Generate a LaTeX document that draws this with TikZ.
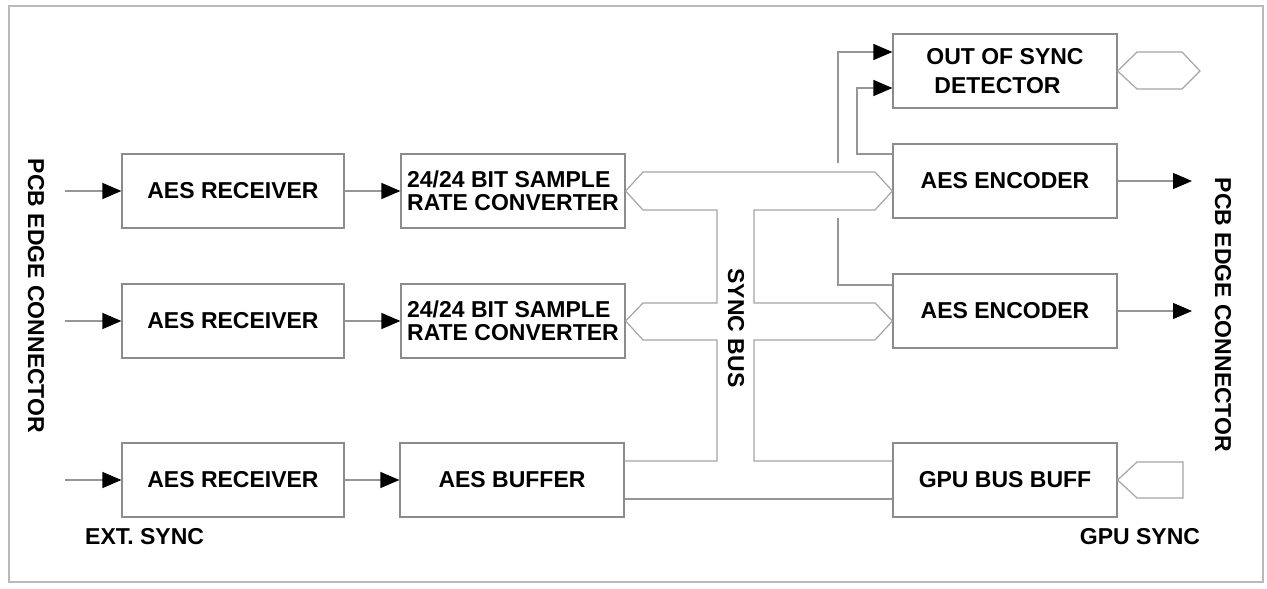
\documentclass[tikz,border=0pt]{standalone}
\usepackage{fontspec}
\setmainfont{Liberation Sans}
\usetikzlibrary{arrows.meta,calc}
\definecolor{boxgray}{RGB}{140,140,140}
\definecolor{linegray}{RGB}{150,150,150}
\definecolor{busgray}{RGB}{165,165,165}
\definecolor{framegray}{RGB}{185,185,185}
\begin{document}
\begin{tikzpicture}[x=1pt,y=-1pt,
  font=\bfseries\fontsize{23}{23.5}\selectfont,
  blk/.style={draw=boxgray, line width=1.2pt, minimum width=224pt, minimum height=74pt, inner sep=0pt, align=center},
  rxbox/.style={blk, minimum width=222pt},
  conn/.style={draw=linegray, line width=1.2pt},
  bus/.style={draw=busgray, line width=1.2pt, line join=miter},
  arr/.style={conn, -{Triangle[length=19pt,width=16pt,black]}},
  lbl/.style={inner sep=0pt}]
\useasboundingbox (0,0) rectangle (1267,589);
\draw[framegray, line width=1.2pt] (9,6) rectangle (1263,582);

% blocks
\node[rxbox] (rx1) at (233,191) {AES RECEIVER};
\node[rxbox] (rx2) at (233,321) {AES RECEIVER};
\node[rxbox] (rx3) at (233,480) {AES RECEIVER};
\node[blk, align=left] (src1) at (513,191) {24/24 BIT SAMPLE\\RATE CONVERTER};
\node[blk, align=left] (src2) at (513,321) {24/24 BIT SAMPLE\\RATE CONVERTER};
\node[blk] (buf) at (512,480) {AES BUFFER};
\node[blk, align=left] (det) at (1005,71) {OUT OF SYNC\\[5pt]\hspace*{8pt}DETECTOR};
\node[blk] (enc1) at (1005,181) {AES ENCODER};
\node[blk] (enc2) at (1005,311) {AES ENCODER};
\node[blk] (gpu) at (1005,480) {GPU BUS BUFF};

% labels
\node[lbl, rotate=-90] (pcbL) at (36,296) {PCB EDGE CONNECTOR};
\node[lbl, rotate=-90] (pcbR) at (1223,315) {PCB EDGE CONNECTOR};
\node[lbl, rotate=-90] (sbus) at (736,328) {SYNC BUS};
\node[lbl, anchor=west] (ext) at (85,537) {EXT. SYNC};
\node[lbl] (gsync) at (1140,537) {GPU SYNC};

% inputs
\coordinate (in1) at (65,191);
\coordinate (in2) at (65,321);
\coordinate (in3) at (65,480);
\draw[arr] (in1) -- (rx1.west);
\draw[arr] (in2) -- (rx2.west);
\draw[arr] (in3) -- (rx3.west);
\draw[arr] (rx1.east) -- (src1.west);
\draw[arr] (rx2.east) -- (src2.west);
\draw[arr] (rx3.east) -- (buf.west);

% outputs
\coordinate (o1) at (1192,181);
\coordinate (o2) at (1192,311);
\draw[arr] (enc1.east) -- (o1);
\draw[arr] (enc2.east) -- (o2);

% sync bus
\draw[bus] (buf.east |- 0,461) -- (717,461) -- (717,340) -- (643,340) -- (src2.east) -- (643,303)
  -- (717,303) -- (717,210) -- (643,210) -- (src1.east) -- (643,172) -- (875,172)
  -- (enc1.west |- 0,191) -- (875,210) -- (754,210) -- (754,303) -- (875,303)
  -- (enc2.west |- 0,321) -- (875,340) -- (754,340) -- (754,461) -- (gpu.west |- 0,461);
\draw[conn] (buf.east |- 0,499) -- (gpu.west |- 0,499);

% to out-of-sync detector
\draw[conn] (enc2.west |- 0,285) -- (838,285) -- (838,218);
\draw[arr] (838,163) -- (838,52) -- (det.west |- 0,52);
\draw[arr] (enc1.west |- 0,154) -- (857,154) -- (857,88) -- (det.west |- 0,88);

% connector shapes
\draw[bus] (det.east) -- (1137,52) -- (1182,52) -- (1200,71) -- (1182,89) -- (1137,89) -- cycle;
\draw[bus] (gpu.east) -- (1137,462) -- (1183,462) -- (1183,498) -- (1137,498) -- cycle;
\end{tikzpicture}
\end{document}
